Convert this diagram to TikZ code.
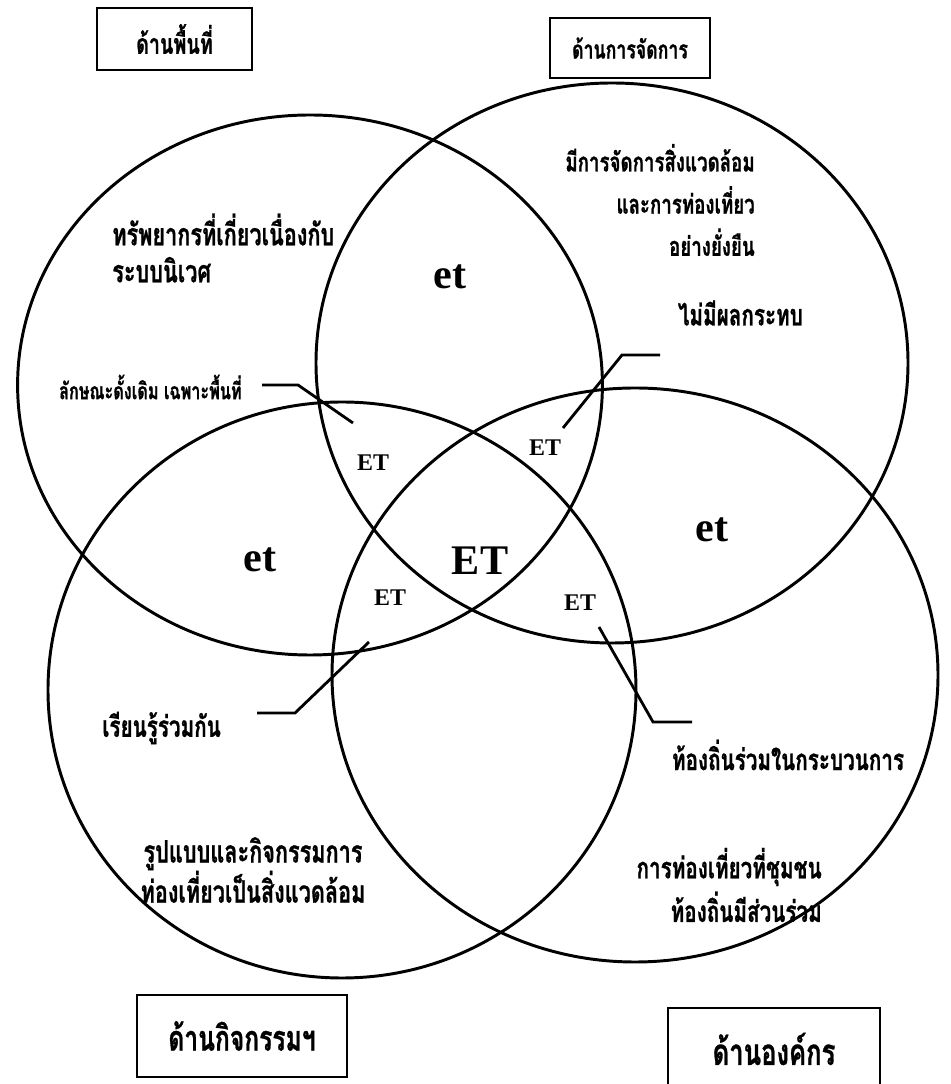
\documentclass[tikz,border=0pt]{standalone}
\usepackage{fontspec}
\newfontfamily\thaifont[Script=Thai,FakeStretch=0.7,BoldFeatures={FakeBold=0.8}]{Loma}
\newfontfamily\etfont{Liberation Serif}
\begin{document}
\begin{tikzpicture}[
    ring/.style={line width=2.1pt},
    lead/.style={line width=2pt},
    frame/.style={draw,line width=1.6pt,inner sep=0pt},
    th/.style={inner sep=0pt,font=\thaifont\bfseries\fontsize{21}{26}\selectfont},
    lo/.style={font=\etfont\bfseries\fontsize{30}{30}\selectfont},
    hi/.style={font=\etfont\bfseries\fontsize{17}{17}\selectfont}]
  \useasboundingbox (0,0) rectangle (23.75,27.1);
  % the four fields
  \coordinate (A) at (7.75,17.475);
  \coordinate (B) at (15.3,18.025);
  \coordinate (C) at (8.55,9.85);
  \coordinate (D) at (15.875,10.225);
  \draw[ring] (A) ellipse [x radius=7.31,y radius=6.75];
  \draw[ring] (B) ellipse [x radius=7.4,y radius=7.0];
  \draw[ring] (C) ellipse [x radius=7.35,y radius=7.2];
  \draw[ring] (D) ellipse [x radius=7.575,y radius=7.175];
  % titles
  \node[frame,th,font=\thaifont\bfseries\fontsize{20}{24}\selectfont,minimum width=3.875cm,minimum height=1.55cm] (area) at (4.3625,26.125) {ด้านพื้นที่};
  \node[frame,th,font=\thaifont\bfseries\fontsize{18}{24}\selectfont,minimum width=4cm,minimum height=1.5cm] (mgmt) at (15.75,25.9) {ด้านการจัดการ};
  \node[frame,th,font=\thaifont\bfseries\fontsize{25}{30}\selectfont,minimum width=5.25cm,minimum height=2.05cm] (act) at (6.05,1.2) {ด้านกิจกรรมฯ};
  \node[frame,th,font=\thaifont\bfseries\fontsize{26}{30}\selectfont,minimum width=5.3cm,minimum height=2.05cm] (org) at (19.35,0.875) {ด้านองค์กร};
  % overlaps
  \node[lo] (etAB) at (11.25,20.175) {et};
  \node[lo] (etAC) at (6.5,13.1) {et};
  \node[lo] (etBD) at (17.8,13.85) {et};
  \node[lo] (core) at (12,13.075) {ET};
  \node[hi] (abc) at (9.325,15.525) {ET};
  \node[hi] (abd) at (13.625,15.9) {ET};
  \node[hi] (acd) at (9.75,12.15) {ET};
  \node[hi] (bcd) at (14.5,12.025) {ET};
  % texts
  \node[th,align=left,anchor=west,font=\thaifont\bfseries\fontsize{22}{26.3}\selectfont] (eco) at (2.8,20.9) {ทรัพยากรที่เกี่ยวเนื่องกับ\\ระบบนิเวศ};
  \node[th,anchor=east,font=\thaifont\bfseries\fontsize{16.5}{20}\selectfont] (trait) at (6.05,17.425) {ลักษณะดั้งเดิม เฉพาะพื้นที่};
  \node[th,align=right,anchor=east,font=\thaifont\bfseries\fontsize{19}{30}\selectfont] (manage) at (18.875,22.1) {มีการจัดการสิ่งแวดล้อม\\และการท่องเที่ยว\\อย่างยั่งยืน};
  \node[th] (impact) at (18.51,19.275) {ไม่มีผลกระทบ};
  \node[th] (learn) at (4.04,8.9) {เรียนรู้ร่วมกัน};
  \node[th] (local) at (19.7,8.225) {ท้องถิ่นร่วมในกระบวนการ};
  \node[th,align=center,font=\thaifont\bfseries\fontsize{22}{28.5}\selectfont] (style) at (6.325,5.35) {รูปแบบและกิจกรรมการ\\ท่องเที่ยวเป็นสิ่งแวดล้อม};
  \node[th,align=right,anchor=east,font=\thaifont\bfseries\fontsize{21}{31}\selectfont] (commun) at (20.55,4.975) {การท่องเที่ยวที่ชุมชน\\ท้องถิ่นมีส่วนร่วม};
  % leaders
  \coordinate (t0) at (6.55,17.475);
  \coordinate (t1) at (7.45,17.475);
  \coordinate (t2) at (8.825,16.525);
  \coordinate (m0) at (16.5,18.225);
  \coordinate (m1) at (15.55,18.225);
  \coordinate (m2) at (14.075,16.4);
  \coordinate (l0) at (6.425,9.275);
  \coordinate (l1) at (7.375,9.275);
  \coordinate (l2) at (9.225,11.05);
  \coordinate (p0) at (14.975,11.425);
  \coordinate (p1) at (16.325,9.05);
  \coordinate (p2) at (17.3,9.05);
  \draw[lead] (t0) -- (t1) -- (t2);
  \draw[lead] (m0) -- (m1) -- (m2);
  \draw[lead] (l0) -- (l1) -- (l2);
  \draw[lead] (p0) -- (p1) -- (p2);
\end{tikzpicture}
\end{document}
